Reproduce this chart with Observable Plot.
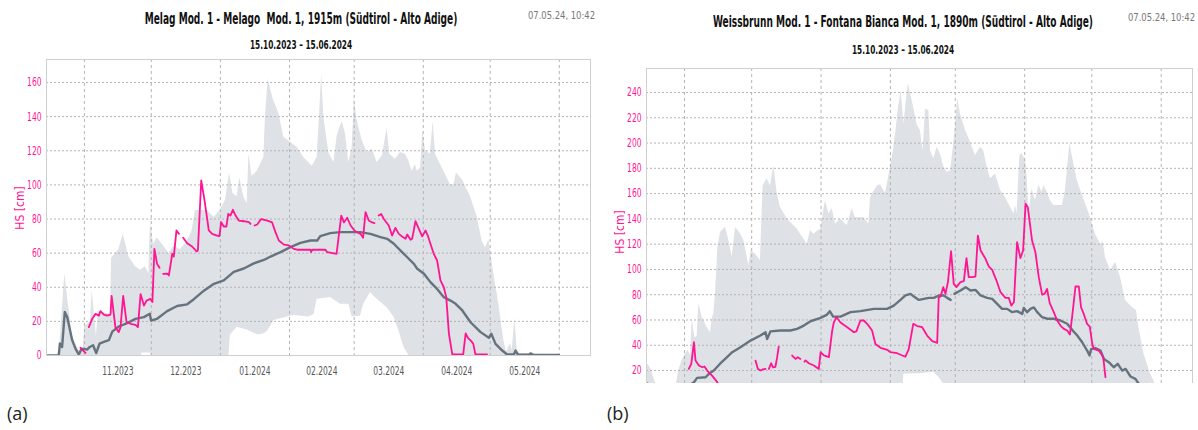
<!DOCTYPE html>
<html><head><meta charset="utf-8">
<script src="https://cdn.jsdelivr.net/npm/d3@7"></script>
<script src="https://cdn.jsdelivr.net/npm/@observablehq/plot@0.6"></script>
<style>
body{margin:0;background:#fff;}
#root{position:relative;width:1198px;height:430px;overflow:hidden;background:#fff;
  font-family:"Liberation Sans Narrow","DejaVu Sans Condensed","Arial Narrow",sans-serif;}
.c{position:absolute;white-space:pre;}
.title{font-weight:bold;font-size:15px;color:#111;transform:translate(-50%,-50%) scaleX(0.67);}
.sub{font-weight:bold;font-size:12.5px;color:#111;transform:translate(-50%,-50%) scaleX(0.655);}
.stamp{position:absolute;white-space:pre;font-size:11px;color:#777;transform-origin:right center;transform:translate(-100%,-50%) scaleX(0.85);}
.ylab{position:absolute;white-space:pre;font-size:12px;color:#ff1493;transform:translate(-50%,-50%) rotate(-90deg);}
.tag{position:absolute;font-family:"Open Sans",sans-serif;font-size:18px;color:#222;transform:translateY(-50%);}
.plot{position:absolute;overflow:hidden;}
</style></head>
<body><div id="root"></div>
<script>
// ---------- data (day = days since 15.10.2023, value = snow depth HS in cm) ----------
const seasonStart = "2023-10-15";
const seasonEnd = "2024-06-15";
const monthLabels = ["11.2023","12.2023","01.2024","02.2024","03.2024","04.2024","05.2024"];

const melagTitle = "Melag Mod. 1 - Melago  Mod. 1, 1915m (Südtirol - Alto Adige)";
const weissTitle = "Weissbrunn Mod. 1 - Fontana Bianca Mod. 1, 1890m (Südtirol - Alto Adige)";
const periodLabel = "15.10.2023 – 15.06.2024";
const stampLabel = "07.05.24, 10:42";

// Panel (a) Melag: maximum envelope
const melagMax = [[0,0],[5,0],[6,6],[8.2,48],[10,28],[11.5,12],[14.5,3],[16.5,4],[17.2,17],[19.7,20],[20.5,38],[22.4,11],[23.2,26],[28.7,24],[29.2,57],[32.4,62],[34.4,71],[36.9,58],[39.9,52],[42.2,50],[44.4,52],[45.9,48],[46.6,78],[48.1,65],[49.6,69],[52.6,64],[54.9,60],[57.1,64],[60.1,62],[63.1,67],[65.3,73],[66.8,85],[72.1,85],[75.1,81],[78,85],[80.3,91],[82.1,107],[83.6,95],[85.5,93],[86.7,104],[88.5,93],[90,89],[90.8,118],[92.2,105],[94.5,108],[97.5,116],[98.2,140],[99.4,162],[101.7,150],[104.2,142],[105,137],[106.4,128],[109.4,125],[112.4,122],[115.4,116],[119.2,111],[121.4,116],[122.6,144],[123.4,165],[124.4,140],[126.6,119],[128.9,113],[130.4,129],[132.6,137],[134.1,130],[135.6,113],[137.1,122],[138.1,151],[139.3,138],[141.6,126],[143.8,119],[146.1,121],[148.3,113],[150.6,117],[152.8,133],[154,118],[156.5,115],[158.8,119],[161,118],[162.5,114],[164,108],[165.5,112],[166.3,108],[167.8,110],[168.8,132],[170,120],[172.2,118],[173.4,137],[174.5,118],[176.7,112],[179,106],[181.2,100],[182.7,100],[183.9,107],[186.5,103],[190.2,93],[193.2,81],[195.4,67],[196.9,63],[198.4,68],[200.6,48],[202.9,30],[205.1,9],[206.3,2],[208.1,7],[208.9,3],[210.1,22],[211.1,3],[212.6,1],[215.6,1],[218.6,0],[244,0]];
// Panel (a) Melag: minimum envelope
const melagMin = [[0,0],[42.5,0],[43,1.5],[46.5,1.5],[47,0],[81.8,0],[82.5,12],[85.5,16.6],[90,15],[93,13],[95.2,12],[97.5,12.7],[99,14],[100.5,17],[102,20.5],[108,22.5],[111,23.4],[117.7,22.5],[120,24],[121.4,33],[127.4,34],[131.9,30],[135.6,30],[137.1,22.5],[140.8,23],[142.3,30],[145.3,37],[148.3,33],[152.8,28],[155.8,22.5],[158,14.6],[160.3,5],[162.5,0],[244,0]];
// Panel (a) Melag: median
const melagMedian = [[0,0],[5.5,0],[6,7],[7,5],[8.2,25.5],[9.3,22.5],[11.5,9],[13,4],[14.5,0.5],[15.7,4],[18.2,3.5],[19.4,5],[20.9,6],[22.3,1.4],[23.8,7],[25.7,8],[28,9],[29.5,14],[32.4,17],[36.2,19],[39.9,21.5],[43.7,22.5],[46.3,24.5],[46.9,20.5],[49.6,21.5],[54.1,26],[58.6,29],[63.1,30],[66.1,33],[70.6,38],[75.1,42],[79.5,44],[84,49],[88.5,51],[93,54],[97.5,56],[100.5,58],[105,60.6],[109.4,63.5],[113.9,66],[118.4,67.4],[121.4,67.4],[122.8,70],[127.3,71.7],[131.8,72.3],[140.8,72.3],[145.3,71.3],[149.8,69.4],[152.8,68.4],[155.8,65.5],[158.8,61.5],[161.8,57.6],[164.8,53.7],[166.3,50.8],[169.3,47.9],[172.2,43],[175.2,39],[178.2,34.2],[181.2,32.2],[183.5,30.3],[186.5,26.4],[190.2,19.5],[194.7,13.7],[198.4,10.4],[199.5,12.7],[201.4,6.8],[204.4,2.9],[206.6,0.6],[209.6,0.6],[210.4,2.9],[211.4,0.5],[216.4,0.5],[217.1,1.2],[218.6,0.3],[229.8,0.3]];
// Panel (a) Melag: current season HS (null = missing data)
const melagHS = [[15.2,4.5],[17.5,1.5],null,
 [19,16.6],[20.5,21.5],[22,24.4],[23.5,23.4],[24.2,26],[25.7,24],[27.2,23.4],[28.7,24],[29.2,35],[30.9,16.6],[32.4,13.7],[33.2,16.6],[34.4,35],[35.9,19.5],[37.7,18.6],[39.9,18],[41,16.6],[42.2,36],[43.7,29.3],[44.9,32.2],[46.6,33.2],[47.5,31.3],[48.4,62.5],[49.6,53.7],[50.7,51.4],null,
 [52.3,47.9],[54.1,48],[54.9,46.9],[56.4,59.6],[57.1,58],[58.3,73.3],[59.4,71.3],null,
 [61.3,69],[63.1,65.8],[65.3,63.9],[67.3,61],[67.9,61.5],[69.4,102.6],[70.9,90.8],[72.8,73.3],[74.3,71.3],[76.5,70.3],[77.6,70],[78.3,78.2],[79.5,75.6],[80.7,75.6],[81.5,83],[82.5,82],[83.6,85.4],[84.8,82],[86.3,79],[88.5,78.7],[90.8,78.2],[91.5,77.2],null,
 [93.3,76.2],[94.5,76.8],[96.3,80],[99,79],[101.2,78],[102.7,72.3],[104.2,67.4],[106.5,65],[108.7,64.5],[110.9,62.5],[112.4,62],[118.4,62],[118.7,60.6],[119.2,62],[125.1,62],[125.9,60.6],[130.1,59.6],[132.2,82],[133.4,78],[134.9,80.7],[136.4,76.2],[138.1,73.3],[139.3,72.3],[140.8,71.3],[142,69],[143.1,84],[144.6,79],[146.1,78],[147.1,77.6],null,
 [149,82],[150.1,83],[151.3,80],[153.5,76.2],[155,70.3],[156.5,74.8],[158,71.3],[159.5,69.8],[161,68.4],[161.8,70.9],[163.3,67.8],[164,68.4],[165.5,78.7],[167,74.2],[168.5,69.8],[170,73.3],[171,70.3],[172.2,65.5],[173.7,59.6],[175.2,55.7],[176.7,44],[178.2,40],[179.3,34.2],[180.5,12.7],[182,0.6],[186.9,0.6],[188,13],[189,10.4],[190.5,8.4],[191.4,7],[192.4,0.6],[197.6,0.6]];

// Panel (b) Weissbrunn: maximum envelope
const weissMax = [[0,26],[1.8,22],[3.3,14],[4.8,6],[13,6],[14.4,20],[15.9,28],[17.4,33],[18.5,36],[19.7,32],[20.4,61],[21.6,46],[22.6,47],[23.4,72.8],[24.9,62],[27.1,54],[28.6,50],[29.3,61],[30.1,65],[30.8,80],[31.9,117.6],[33.1,129.5],[35.3,133.4],[36.8,123],[38.3,110],[39.8,133.4],[42,128],[43.5,123],[45,110],[45.7,103],[46.8,115],[48.7,112],[50.9,107],[52.1,166],[53.9,171.7],[55.4,166],[56.9,182],[58.4,160],[59.9,149],[62.9,140],[67.3,132],[71.8,120],[73.3,130.8],[74.8,128],[77.8,132],[80,154.5],[81.5,144],[83,148],[84.5,136],[86.7,140],[89.7,134.7],[91.9,148],[93.4,141],[97.1,141],[99.4,136],[100.1,157],[103.1,166],[104.6,167],[106.8,160],[108.5,176],[110,190],[111.5,210],[112.6,228],[113.8,241.6],[115,215],[117,247],[118.7,233.7],[121,214],[122.4,210],[123.6,194],[124.7,227],[126.2,225.8],[126.9,194],[128.4,187.5],[129.9,196.7],[131.4,191],[132.9,181],[134.4,177],[135.9,178],[137.3,199.4],[139.1,235],[140.3,223],[142.6,210],[144.8,200.7],[147,190],[149.3,196.7],[150.7,194],[152.2,181],[153.7,171.7],[156,175.6],[158.2,162.5],[160.4,157],[162.7,149],[164.2,144],[164.9,150.6],[165.6,144],[166.8,190],[167.9,191.5],[169.4,186],[170.1,173],[170.9,144],[172.3,163.8],[173.8,154.5],[175.3,166.4],[176.8,161],[177.6,166.4],[179.1,161],[180.5,154.5],[182,150.6],[185.8,150.6],[187.2,162.5],[189.2,199.4],[191,183.5],[192.5,170.4],[194,162.5],[196.2,152],[198.4,141.3],[200.6,128],[202.9,120],[204.1,121.6],[205.1,109.7],[207.4,99],[209.6,105.7],[211.8,94],[214.1,75.4],[217,70],[219,67.5],[220,54.3],[222.3,33.2],[225.2,17.4],[228.2,6],[231,0],[244,0]];
// Panel (b) Weissbrunn: minimum envelope
const weissMin = [[0,0],[114.5,0],[115,17],[122.4,17.5],[128.4,18.7],[130.6,14.7],[132.9,9],[133.5,0],[244,0]];
// Panel (b) Weissbrunn: median
const weissMedian = [[0,10],[2,8],[3,2],[18.5,2],[19.7,9],[21.2,10.8],[22.6,14.2],[26.4,14.7],[27.9,17.4],[30.1,20],[33.1,25.8],[36,30.6],[38.3,34.5],[42,38.5],[46.5,43.7],[50.9,47.7],[53.2,50.3],[53.9,45],[55.4,51],[59.9,51.7],[64.3,51.7],[67.3,53],[70.3,55.6],[73.3,59],[77.8,61.7],[80.7,64.3],[81.9,67],[83.4,62.7],[86.7,62.7],[91.2,66.2],[95.6,67],[101.6,68.8],[107.5,68.8],[110.5,71.4],[113.5,75.9],[115.7,79.4],[118,80.7],[119.5,78.5],[121.7,75.9],[124,76.7],[126.2,77.5],[128.4,77.5],[130.6,79.4],[132.9,79.4],[134.4,77.5],[135.9,75.9],null,
 [137.6,80.7],[140.3,83.3],[142.6,86],[144.8,83.3],[147,83.8],[149.3,79.4],[152.2,77.5],[154.5,76.7],[156.7,72.8],[158.9,68.8],[161.2,68.8],[163.4,66.2],[165.6,67],[167.9,64.8],[168.6,69.5],[170.1,66.2],[171.6,68.8],[173.1,70],[174.6,66.2],[176.8,62.2],[179.1,61],[182,61],[185,59.6],[188,57],[190.2,52.2],[192.5,47.7],[194.7,42.4],[196.9,35.8],[198,31.9],[198.7,37],[200.6,37.8],[202.9,35.8],[204.4,29.2],[206.6,26.6],[208.8,22.6],[210.6,25.3],[212.6,20],[214.1,21.3],[216.3,15.3],[218.5,13.4],[220,9.5],[225,4],[230,0]];
// Panel (b) Weissbrunn: current season HS (null = missing data)
const weissHS = [[18.9,21.3],[20,25.3],[21.2,42.4],[21.9,28],[23.4,24],[24.9,22.6],[25.9,23.2],[27.1,20],[29.3,16],[31.6,10.8],[33.5,6],null,
 [48.7,27.9],[49.8,21.3],[51,20],[52,21],[53.2,21.3],null,
 [54.7,21.3],[55.7,25.8],[56.5,22.6],[57.6,23],[58.4,30.6],[59.1,39],null,
 [65.1,31.9],[66.6,29.2],[67.6,30.6],[68.8,29.2],null,
 [70.6,27],[71.1,28],[72.5,25.8],[74.8,24],[77,21.3],[77.8,34.5],[79.3,32],[81.5,30.6],[83,51.7],[83.7,58],[84.9,62.2],[86.7,58],[89.7,54.3],[92.7,50.3],[93.8,51],[95.6,59.6],[97.1,59.6],[98.6,57],[100.8,51.7],[102.3,41],[104.6,38],[107.6,36.4],[109,34.5],[112,33.7],[114.3,31.9],[115.7,31],[117.2,37],[119.2,57],[121,55.2],[123.2,54.3],[125.4,47.7],[127.7,43.2],[129.9,41.9],[130.6,78],[131.4,78.5],[132.6,86],[133.6,80.7],[134.7,90],[136.1,114.4],[137.3,88.6],[138.5,86],[140.3,90],[141.8,90.7],[143,109],[144,93.9],[145.5,93.9],[147,94.4],[148.1,126.8],[149.3,115],[151.5,108.4],[153,102.3],[154.5,99.7],[156.4,91.2],[158.2,82],[160.4,77.5],[161.9,77.5],[163,71.4],[164.2,74],[165.6,121.6],[167.1,109],[168.3,115],[169.4,152],[170.4,149.3],[172.3,122.9],[173.8,113.6],[175.3,93.9],[176.8,80.1],[177.9,80.6],[179,84.6],[180.2,73.3],[182,66.2],[183.5,59.6],[185,55.6],[186.5,53],[188,51.7],[189.2,48.5],[190.2,62.2],[191.7,86.5],[193.2,86.5],[194.2,70],[195.4,64.8],[196.9,56.9],[198.1,54.8],[199.2,41.1],[199.9,37.1],[202.1,35.8],[203.2,33.2],[204.1,30.6],[205.1,14.7]];

// ---------- styling ----------
const PINK = "#ff1493", MEDIAN = "#66737e", BAND = "#dee1e5", GRID = "#b4b4b4", FRAME = "#cfcfcf";
const FONT = "'Liberation Sans Narrow','DejaVu Sans Condensed','Arial Narrow',sans-serif";
const TICK_SQUEEZE = 0.7;   // narrow (condensed) look of the original tick labels

const t0 = new Date(seasonStart + "T00:00:00Z");
const t1 = new Date(seasonEnd + "T00:00:00Z");
const toRows = arr => arr.map(p => p === null ? {date: undefined, v: NaN}
  : {date: new Date(+t0 + p[0] * 864e5), v: p[1]});

const monthStarts = d3.utcMonth.range(d3.utcMonth.ceil(t0), t1);            // 01.11.2023 … 01.06.2024
const labelTicks = monthStarts.slice(0, monthLabels.length)
  .map(m => new Date((+m + +d3.utcMonth.offset(m, 1)) / 2));                // mid-month label positions
const labelMap = new Map(labelTicks.map((d, i) => [+d, monthLabels[i]]));

function squeezeTickLabels(svg) {
  svg.querySelectorAll('g[aria-label$="tick label"] text').forEach(el => {
    const tr = el.getAttribute("transform");
    if (tr) el.setAttribute("transform", tr + ` scale(${TICK_SQUEEZE},1)`);
    else {
      const x = +el.getAttribute("x") || 0, y = +el.getAttribute("y") || 0;
      el.removeAttribute("x"); el.removeAttribute("y");
      el.setAttribute("transform", `translate(${x},${y}) scale(${TICK_SQUEEZE},1)`);
    }
  });
  return svg;
}

function panel(o) {
  const marks = [
    Plot.areaY(toRows(o.max), {x: "date", y: "v", fill: BAND, clip: true}),
    Plot.areaY(toRows(o.min), {x: "date", y: "v", fill: "#ffffff", clip: true}),
    Plot.gridY({ticks: o.yTicks, stroke: GRID, strokeOpacity: 1, strokeDasharray: "2,2"}),
    Plot.gridX({ticks: monthStarts, stroke: GRID, strokeOpacity: 1, strokeDasharray: "3,3"}),
    Plot.line(toRows(o.median), {x: "date", y: "v", stroke: MEDIAN, strokeWidth: 2.4, clip: true}),
    Plot.line(toRows(o.hs), {x: "date", y: "v", stroke: PINK, strokeWidth: 1.8, clip: true}),
    Plot.axisY({ticks: o.yTicks, tickSize: 0, tickPadding: 5, fill: PINK, label: null}),
    Plot.frame({stroke: FRAME})
  ];
  if (o.showX) marks.push(Plot.axisX({ticks: labelTicks, tickFormat: d => labelMap.get(+d), tickSize: 0,
                                      tickPadding: 11, fill: "#555", label: null}));
  return squeezeTickLabels(Plot.plot({
    width: o.width, height: o.height,
    marginLeft: 46, marginRight: o.mr, marginTop: o.mt, marginBottom: o.mb,
    style: {fontFamily: FONT, fontSize: "12px", background: "transparent"},
    x: {type: "utc", domain: [t0, t1], axis: o.showX ? undefined : null},
    y: {domain: o.yDomain, axis: null},
    marks
  }));
}

const root = document.getElementById("root");
function addDiv(cls, text, x, y) {
  const d = document.createElement("div");
  d.className = cls; d.textContent = text;
  d.style.left = x + "px"; d.style.top = y + "px";
  root.appendChild(d); return d;
}
function addPlot(svg, x, y, w, h) {
  const d = document.createElement("div");
  d.className = "plot";
  Object.assign(d.style, {left: x + "px", top: y + "px", width: w + "px", height: h + "px"});
  d.appendChild(svg); root.appendChild(d);
}

// Panel (a)
addPlot(panel({max: melagMax, min: melagMin, median: melagMedian, hs: melagHS,
  yDomain: [0, 173.5], yTicks: d3.range(0, 161, 20), width: 600, height: 330, mt: 4, mb: 30, mr: 10, showX: true}),
  0, 55, 600, 330);
addDiv("c title", melagTitle, 301, 19);
addDiv("c sub", periodLabel, 301, 44);
addDiv("stamp", stampLabel, 595, 15);
addDiv("ylab", "HS [cm]", 20, 208);
addDiv("tag", "(a)", 7, 413);

// Panel (b) — lower part of the chart is cut off in the original figure
addPlot(panel({max: weissMax, min: weissMin, median: weissMedian, hs: weissHS,
  yDomain: [-3.7, 259], yTicks: d3.range(20, 241, 20), width: 598, height: 340, mt: 8, mb: 0, mr: 6, showX: false}),
  600, 60, 598, 323);
addDiv("c title", weissTitle, 903, 22);
addDiv("c sub", periodLabel, 903, 49);
addDiv("stamp", stampLabel, 1195, 17);
addDiv("ylab", "HS [cm]", 620, 232);
addDiv("tag", "(b)", 607, 413);
</script></body></html>
